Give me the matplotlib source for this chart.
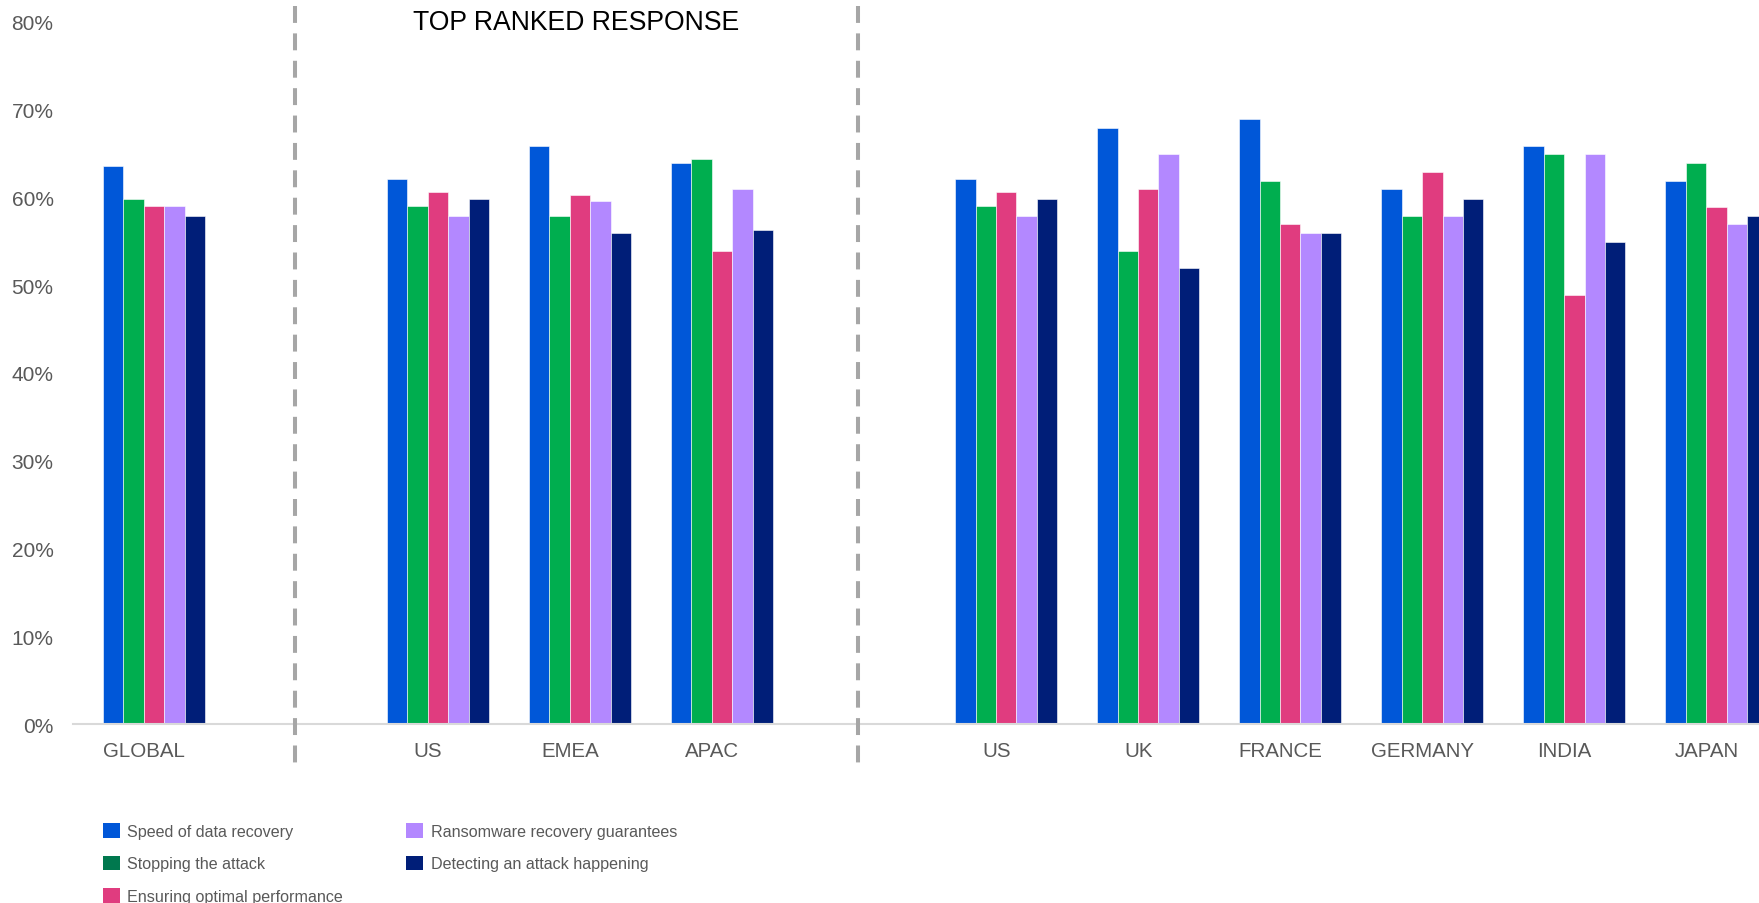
import matplotlib
matplotlib.use('Agg')
import numpy as np
import matplotlib.pyplot as plt
import matplotlib.transforms as mtransforms
from matplotlib.patches import Patch

plt.rcParams['font.family'] = ['Liberation Sans', 'DejaVu Sans']

# categories (blank slots keep the gaps where the dashed separators sit)
categories = ['GLOBAL', '', 'US', 'EMEA', 'APAC', '', 'US', 'UK', 'FRANCE', 'GERMANY', 'INDIA', 'JAPAN']
series_names = ['Speed of data recovery', 'Stopping the attack', 'Ensuring optimal performance',
                'Ransomware recovery guarantees', 'Detecting an attack happening']

speed = [63.6, np.nan, 62.1, 65.8, 63.9, np.nan, 62.1, 67.9, 68.9, 60.9, 65.8, 61.9]
stopping = [59.8, np.nan, 59.0, 57.9, 64.4, np.nan, 59.0, 53.9, 61.9, 57.9, 64.9, 63.9]
ensuring = [59.0, np.nan, 60.6, 60.2, 53.9, np.nan, 60.6, 60.9, 56.9, 62.9, 48.9, 58.9]
ransom = [59.0, np.nan, 57.9, 59.6, 60.9, np.nan, 57.9, 64.9, 55.9, 57.9, 64.9, 56.9]
detecting = [57.9, np.nan, 59.8, 55.9, 56.3, np.nan, 59.8, 51.9, 55.9, 59.8, 54.9, 57.9]

bar_colors = ['#0057D8', '#00AE4F', '#E03C7F', '#B388FF', '#001E78']
legend_colors = ['#0057D8', '#00784E', '#E03C7F', '#B388FF', '#001E78']

fig = plt.figure(figsize=(17.59, 9.04), dpi=100)
ax = fig.add_axes([0.0415, 0.198, 0.9585, 0.777])

x = np.arange(len(categories))
w = 0.144
off = 0.07  # bar groups sit a little right of their labels
all_series = [speed, stopping, ensuring, ransom, detecting]
for i, vals in enumerate(all_series):
    ax.bar(x + off + (i - 2) * w, np.array(vals) / 100, width=w, color=bar_colors[i],
           edgecolor='white', linewidth=0.4, zorder=2)

ax.set_xlim(-0.5, 11.37)
ax.set_ylim(0, 0.8)
ax.set_yticks(np.arange(0, 0.81, 0.1))
ax.set_yticklabels(['%d%%' % v for v in range(0, 81, 10)])
ax.set_xticks(x)
ax.set_xticklabels(categories)
ax.tick_params(axis='y', length=0, pad=14, labelsize=15, labelcolor='#595959')
ax.tick_params(axis='x', length=0, pad=12, labelsize=14.8, labelcolor='#595959')

for s in ['top', 'right', 'left']:
    ax.spines[s].set_visible(False)
ax.spines['bottom'].set_color('#D9D9D9')
ax.spines['bottom'].set_linewidth(1.5)

# dashed separators between global / regions / countries
trans = mtransforms.blended_transform_factory(ax.transData, ax.transAxes)
for xs in [1.06, 5.03]:
    ax.plot([xs, xs], [1.022, -0.06], transform=trans, clip_on=False,
            color='#A6A6A6', linewidth=2.9, dashes=(4.2, 2.6), zorder=3)

ax.text(3.04, 0.8, 'TOP RANKED RESPONSE', ha='center', va='center',
        fontsize=19.2, color='black')

handles = [Patch(facecolor=c, edgecolor='none') for c in legend_colors]
fig.legend(handles, series_names, ncol=2, frameon=False, loc='upper left',
           bbox_to_anchor=(0.0585, 0.088), fontsize=11.6, labelcolor='#595959',
           handlelength=1.05, handleheight=1.05, handletextpad=0.45,
           columnspacing=3.95, labelspacing=1.0, borderaxespad=0, borderpad=0)

fig.savefig('out.png', dpi=100)
